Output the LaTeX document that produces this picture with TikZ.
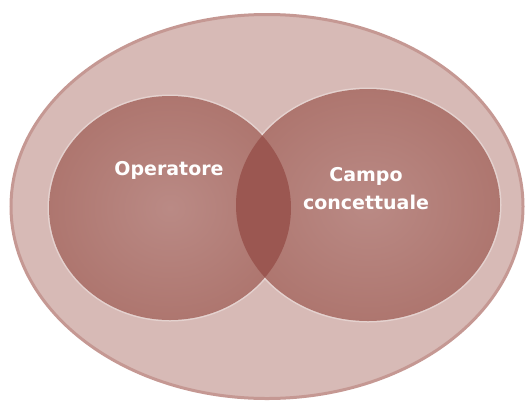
\documentclass[tikz,border=0pt]{standalone}
\usepackage{fontspec}
\setmainfont{DejaVu Sans}
\usetikzlibrary{shapes.geometric}
\definecolor{outerfill}{HTML}{D7BAB6}
\definecolor{outeredge}{HTML}{DFC5C2}
\definecolor{outerline}{HTML}{C59893}
\definecolor{cinner}{HTML}{BA8A85}
\definecolor{cmid}{HTML}{AE766F}
\definecolor{couter}{HTML}{A3635C}
\definecolor{lens}{HTML}{9B5751}
\pgfdeclareradialshading{outershade}{\pgfpoint{0bp}{0bp}}{color(0bp)=(outerfill); color(42bp)=(outerfill); color(50bp)=(outeredge)}
\pgfdeclareradialshading{circshade}{\pgfpoint{0bp}{0bp}}{color(0bp)=(cinner); color(25bp)=(cmid); color(50bp)=(couter)}
\tikzset{
  lbl/.style={text=white, font=\fontsize{19}{28}\selectfont\bfseries, align=center, inner sep=0pt},
  halo/.style={draw=white, draw opacity=0.35, line width=3pt},
}
\begin{document}
\begin{tikzpicture}[x=1pt,y=-1pt]
\useasboundingbox (0,0) rectangle (529,405);
% outer ellipse
\shade[shading=outershade] (267,206.5) ellipse [x radius=256, y radius=192];
\draw[outerline, line width=3pt] (267,206.5) ellipse [x radius=256, y radius=192];
% halos
\draw[halo] (170,208) ellipse [x radius=121, y radius=112];
\draw[halo] (368,205) ellipse [x radius=132, y radius=116];
% circles
\shade[shading=circshade] (170,208) ellipse [x radius=121, y radius=112];
\shade[shading=circshade] (368,205) ellipse [x radius=132, y radius=116];
% lens overlap
\begin{scope}
  \clip (170,208) ellipse [x radius=121, y radius=112];
  \fill[lens] (368,205) ellipse [x radius=132, y radius=116];
\end{scope}
\node[lbl] (op) at (169,170) {Operatore};
\node[lbl] (cc) at (366,189) {Campo\\concettuale};
\end{tikzpicture}
\end{document}
